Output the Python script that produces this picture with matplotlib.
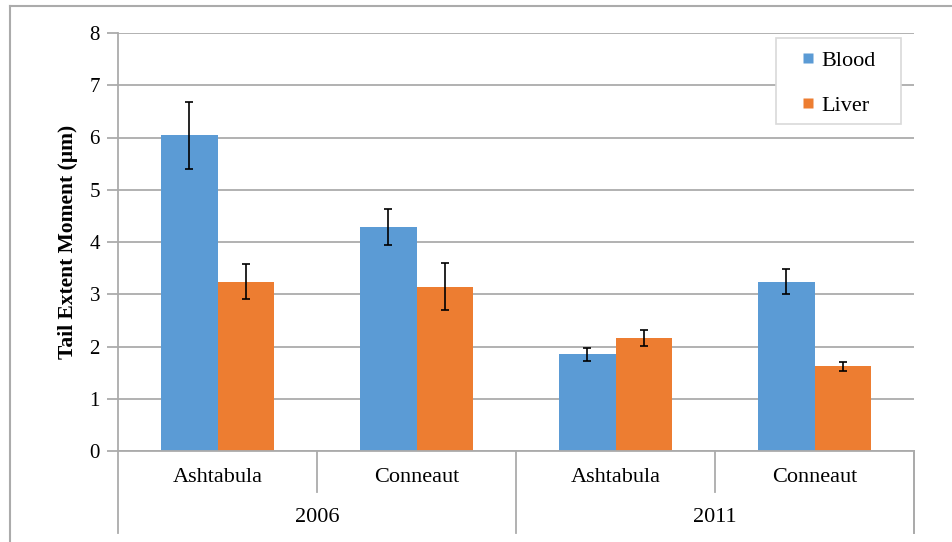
import numpy as np
import matplotlib.pyplot as plt
from matplotlib.lines import Line2D
from matplotlib.patches import Rectangle
from matplotlib.transforms import blended_transform_factory

plt.rcParams['font.family'] = ['Liberation Serif', 'DejaVu Serif']

# tail extent moment, means and error bars
sites = ["Ashtabula", "Conneaut", "Ashtabula", "Conneaut"]
years = ["2006", "2011"]
blood = [6.04, 4.29, 1.85, 3.24]
blood_err = [0.64, 0.35, 0.12, 0.24]
liver = [3.24, 3.14, 2.16, 1.62]
liver_err = [0.33, 0.45, 0.15, 0.08]

BLUE = "#5B9BD5"
ORANGE = "#ED7D31"
GRID = "#ABABAB"

fig = plt.figure(figsize=(9.52, 5.42), dpi=100)
W, H = 952, 542
ax = fig.add_axes([118 / W, 1 - 451 / H, (914 - 118) / W, (451 - 33) / H])

x = np.arange(len(sites))
w = 0.285
err_kw = dict(ecolor="black", elinewidth=1.2, capsize=3.2, capthick=1.2)
ax.bar(x - w / 2, blood, w, yerr=blood_err, color=BLUE, label="Blood",
       error_kw=err_kw, zorder=2)
ax.bar(x + w / 2, liver, w, yerr=liver_err, color=ORANGE, label="Liver",
       error_kw=err_kw, zorder=2)

ax.set_xlim(-0.5, len(sites) - 0.5)
ax.set_ylim(0, 8)
ax.set_yticks(range(0, 9))
ax.yaxis.grid(True, color=GRID, linewidth=1.3, zorder=0)
ax.set_axisbelow(True)
for s in ["top", "right"]:
    ax.spines[s].set_visible(False)
for s in ["left", "bottom"]:
    ax.spines[s].set_color(GRID)
    ax.spines[s].set_linewidth(1.3)
ax.tick_params(axis="y", length=8, width=1.3, color=GRID, labelsize=15, pad=5)
ax.tick_params(axis="x", length=0, labelbottom=False)
ax.set_ylabel("Tail Extent Moment (µm)", fontsize=15.5, fontweight="bold",
              labelpad=8)

# two-level category axis below the plot
tr = blended_transform_factory(ax.transData, ax.transAxes)
px = 1 / (451 - 33)
for i, xs in enumerate(np.arange(-0.5, len(sites), 1.0)):
    depth = 82 if i % 2 == 0 else 41
    ax.plot([xs, xs], [0, -depth * px], color=GRID, lw=1.3,
            transform=tr, clip_on=False)
ax.plot([len(sites) - 0.5, len(sites) - 0.5], [0, -82 * px], color=GRID,
        lw=1.3, transform=tr, clip_on=False)
for xi, name in zip(x, sites):
    ax.text(xi, -27 * px, name, transform=tr, ha="center", va="center",
            fontsize=16)
for j, yr in enumerate(years):
    ax.text(2 * j + 0.5, -67 * px, yr, transform=tr, ha="center",
            va="center", fontsize=16)

# legend: small square markers inside a light box
handles = [Line2D([], [], ls="none", marker="s", ms=7, mec="none", mfc=c)
           for c in (BLUE, ORANGE)]
box = (776 / W, 1 - 124 / H, 125 / W, 86 / H)
fig.add_artist(Rectangle(box[:2], box[2], box[3], transform=fig.transFigure,
                         fill=True, fc="white", ec="#D9D9D9", lw=1.2,
                         zorder=3))
fig.legend(handles, ["Blood", "Liver"], loc="center",
           bbox_to_anchor=(box[0] + box[2] / 2 + 1 / W,
                           box[1] + box[3] / 2 - 2 / H),
           fontsize=16, frameon=False, handlelength=0.5, handletextpad=0.35,
           labelspacing=1.1, borderpad=0, borderaxespad=0).set_zorder(4)

# outer chart border
fig.add_artist(plt.Line2D([10 / W, 10 / W], [0, 1 - 6 / H], color=GRID,
                          lw=1.5, transform=fig.transFigure))
fig.add_artist(plt.Line2D([10 / W, 1], [1 - 6 / H, 1 - 6 / H], color=GRID,
                          lw=1.5, transform=fig.transFigure))

fig.savefig("out.png", dpi=100)
